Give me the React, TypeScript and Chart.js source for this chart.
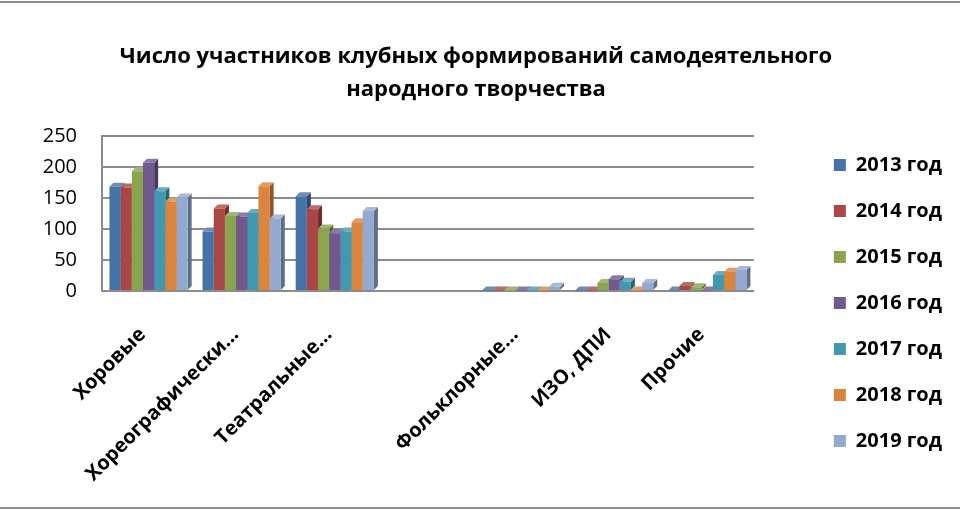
import { useEffect, useRef } from "react"
import { Chart, registerables } from "chart.js"

Chart.register(...registerables)

// categories (the 4th one is an empty slot in the original chart)
const categories = ["Хоровые", "Хореографически…", "Театральные…", "", "Фольклорные…", "ИЗО, ДПИ", "Прочие"]
const years = ["2013 год", "2014 год", "2015 год", "2016 год", "2017 год", "2018 год", "2019 год"]

const y2013 = [168, 96, 153, null, 1, 1, 1]
const y2014 = [167, 133, 132, null, 1, 1, 8]
const y2015 = [193, 121, 101, null, 1, 13, 6]
const y2016 = [207, 120, 93, null, 1, 19, 1]
const y2017 = [161, 126, 96, null, 1, 15, 26]
const y2018 = [144, 169, 111, null, 1, 1, 31]
const y2019 = [151, 117, 129, null, 7, 13, 34]

const yTicks = [0, 50, 100, 150, 200, 250]

const colors = ["#4572a7", "#aa4643", "#89a54e", "#71588f", "#4198af", "#db843d", "#93a9cf"]

const FONT = "'Open Sans', 'Noto Sans', sans-serif"

function shade(hex: string, k: number) {
  const n = parseInt(hex.slice(1), 16)
  const ch = [(n >> 16) & 255, (n >> 8) & 255, n & 255].map((c) =>
    Math.round(k < 0 ? c * (1 + k) : c + (255 - c) * k)
  )
  return `rgb(${ch[0]}, ${ch[1]}, ${ch[2]})`
}

// draws side and top faces behind the bar fronts to fake the 3D look
const depthPlugin = {
  id: "depth3d",
  beforeDatasetsDraw(chart: any) {
    const ctx = chart.ctx
    const d = 4
    ctx.save()
    chart.data.datasets.forEach((ds: any, i: number) => {
      const meta = chart.getDatasetMeta(i)
      meta.data.forEach((bar: any, j: number) => {
        if (ds.data[j] == null) return
        const { x, y, base, width } = bar.getProps(["x", "y", "base", "width"], true)
        const l = x - width / 2
        const r = x + width / 2
        ctx.fillStyle = shade(colors[i], -0.35)
        ctx.beginPath()
        ctx.moveTo(r, y)
        ctx.lineTo(r + d, y - d)
        ctx.lineTo(r + d, base - d)
        ctx.lineTo(r, base)
        ctx.closePath()
        ctx.fill()
        ctx.fillStyle = shade(colors[i], 0.2)
        ctx.beginPath()
        ctx.moveTo(l, y)
        ctx.lineTo(l + d, y - d)
        ctx.lineTo(r + d, y - d)
        ctx.lineTo(r, y)
        ctx.closePath()
        ctx.fill()
      })
    })
    ctx.restore()
  },
}

export default function App() {
  const canvasRef = useRef<HTMLCanvasElement>(null)
  const chartRef = useRef<Chart | null>(null)

  useEffect(() => {
    if (!canvasRef.current) return
    if (chartRef.current) chartRef.current.destroy()

    const series = [y2013, y2014, y2015, y2016, y2017, y2018, y2019]

    chartRef.current = new Chart(canvasRef.current, {
      type: "bar",
      data: {
        labels: categories,
        datasets: series.map((values, i) => ({
          label: years[i],
          data: values,
          backgroundColor: colors[i],
          borderWidth: 0,
          barPercentage: 1,
          categoryPercentage: 0.84,
        })),
      },
      plugins: [depthPlugin],
      options: {
        responsive: false,
        animation: false,
        layout: { padding: { left: 0, right: 8, top: 0, bottom: 0 } },
        scales: {
          x: {
            grid: { display: false },
            border: { display: true, color: "#8c8c8c", width: 2 },
            ticks: {
              color: "#000",
              font: { family: FONT, size: 20, weight: "bold" },
              minRotation: 45,
              maxRotation: 45,
              autoSkip: false,
              padding: 24,
              labelOffset: -6,
            },
            afterFit: (s: any) => {
              s.height = 216
            },
          },
          y: {
            min: 0,
            max: 250,
            afterBuildTicks: (s: any) => {
              s.ticks = yTicks.map((v) => ({ value: v }))
            },
            grid: { color: "#8c8c8c", lineWidth: 2, drawTicks: false },
            border: { display: true, color: "#8c8c8c", width: 2 },
            ticks: {
              color: "#000",
              font: { family: FONT, size: 20 },
              padding: 25,
            },
            afterFit: (s: any) => {
              s.width = 102
            },
          },
          gap: {
            position: "right",
            display: true,
            grid: { display: false },
            border: { display: false },
            ticks: { display: false },
            afterFit: (s: any) => {
              s.width = 54
            },
          },
        },
        plugins: {
          title: {
            display: true,
            text: ["Число участников клубных формирований самодеятельного", "народного творчества"],
            color: "#000",
            font: { family: FONT, size: 22, weight: "bold", lineHeight: 1.5 },
            padding: { top: 37, bottom: 30 },
          },
          legend: {
            position: "right",
            title: {
              display: true,
              text: "",
              font: { size: 20 },
              padding: { top: 0, bottom: 72 },
            },
            labels: {
              color: "#000",
              font: { family: FONT, size: 20, weight: "bold" },
              boxWidth: 12,
              boxHeight: 12,
              padding: 26,
            },
          },
          tooltip: { enabled: false },
        },
      },
    })

    return () => {
      if (chartRef.current) {
        chartRef.current.destroy()
        chartRef.current = null
      }
    }
  }, [])

  return (
    <div
      style={{
        position: "absolute",
        top: 1,
        left: 0,
        width: 960,
        height: 504,
        borderTop: "2px solid #8c8c8c",
        borderBottom: "2px solid #8c8c8c",
        background: "#fff",
      }}
    >
      <canvas ref={canvasRef} width={960} height={504} style={{ display: "block" }} />
    </div>
  )
}
